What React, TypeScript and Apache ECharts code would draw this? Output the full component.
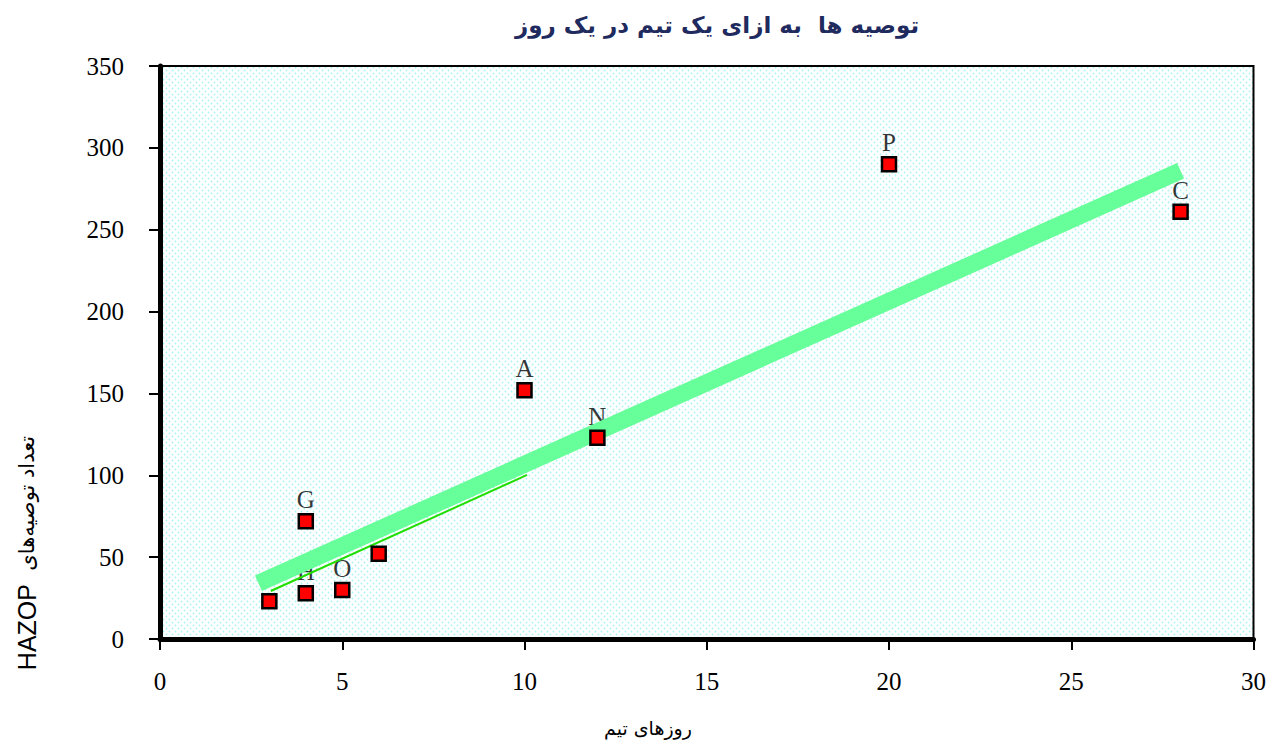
import React, { useEffect, useRef } from "react";
import * as echarts from "echarts";

const teamDays = [3, 4, 5, 6, 4, 10, 12, 20, 28];
const recommendations = [23, 28, 30, 52, 72, 152, 123, 290, 261];
const pointLabels = ["", "H", "O", "", "G", "A", "N", "P", "C"];

const trendX = [2.7, 28];
const trendY = [34, 286];
const thinX = [3.04, 10.07];
const thinY = [29.3, 100.2];

const xTicks = [0, 5, 10, 15, 20, 25, 30];
const yTicks = [0, 50, 100, 150, 200, 250, 300, 350];

const titleText = "توصیه ها  به ازای یک تیم در یک روز";
const xName = "روزهای تیم";
const yNameFa = "تعداد توصیه‌های";
const yNameEn = "HAZOP";

const dotSvg =
  "data:image/svg+xml;utf8," +
  encodeURIComponent(
    '<svg xmlns="http://www.w3.org/2000/svg" width="6" height="6"><rect width="6" height="6" fill="#ffffff"/><circle cx="1.5" cy="1.5" r="0.9" fill="#a8f4f4"/><circle cx="4.5" cy="4.5" r="0.9" fill="#a8f4f4"/></svg>'
  );

export default function App() {
  const ref = useRef<HTMLDivElement>(null);
  useEffect(() => {
    document.body.style.margin = "0";
    const chart = echarts.init(ref.current!, null, { renderer: "svg" });
    const pts = teamDays.map((x, i) => [x, recommendations[i], pointLabels[i]]);
    chart.setOption({
      animation: false,
      backgroundColor: "#ffffff",
      grid: {
        left: 160,
        top: 66,
        right: 14,
        bottom: 103,
        show: true,
        borderColor: "#000",
        borderWidth: 2,
        backgroundColor: {
          image: dotSvg,
          repeat: "repeat",
          imageWidth: 6,
          imageHeight: 6,
        },
      },
      xAxis: {
        type: "value",
        min: xTicks[0],
        max: xTicks[xTicks.length - 1],
        interval: 5,
        splitLine: { show: false },
        axisLine: { show: true, onZero: false, lineStyle: { color: "#000", width: 5 } },
        axisTick: { show: true, length: 11, lineStyle: { color: "#000", width: 2 } },
        axisLabel: {
          color: "#000",
          fontFamily: "Liberation Serif",
          fontSize: 25,
          margin: 30,
          formatter: (v: number) => String(v),
        },
      },
      yAxis: {
        type: "value",
        min: yTicks[0],
        max: yTicks[yTicks.length - 1],
        interval: 50,
        splitLine: { show: false },
        axisLine: { show: true, onZero: false, lineStyle: { color: "#000", width: 5 } },
        axisTick: { show: true, length: 11, lineStyle: { color: "#000", width: 2 } },
        axisLabel: {
          color: "#000",
          fontFamily: "Liberation Serif",
          fontSize: 25,
          margin: 36,
          formatter: (v: number) => String(v),
        },
      },
      graphic: [
        {
          type: "text",
          x: 717,
          y: 25,
          style: {
            text: titleText,
            font: "bold 23px 'DejaVu Sans'",
            fill: "#1f2a5e",
            align: "center",
            verticalAlign: "middle",
          },
        },
        {
          type: "text",
          x: 648,
          y: 728,
          style: {
            text: xName,
            font: "19px 'DejaVu Sans'",
            fill: "#000",
            align: "center",
            verticalAlign: "middle",
          },
        },
        {
          type: "text",
          x: 27,
          y: 553,
          rotation: Math.PI / 2,
          style: {
            text: "{en|" + yNameEn + "}{fa|  " + yNameFa + "}",
            align: "center",
            verticalAlign: "middle",
            fill: "#000",
            rich: {
              en: { fontFamily: "Liberation Sans", fontSize: 25, fill: "#000" },
              fa: { fontFamily: "DejaVu Sans", fontSize: 21, fill: "#000" },
            },
          },
        },
      ],
      series: [
        {
          type: "scatter",
          z: 1,
          data: pts,
          symbol: "rect",
          symbolSize: 14,
          itemStyle: { color: "rgba(0,0,0,0)" },
          label: {
            show: true,
            position: "top",
            distance: 2,
            formatter: (p: any) => p.value[2],
            color: "#000",
            fontFamily: "Liberation Serif",
            fontSize: 25,
          },
          silent: true,
        },
        {
          type: "line",
          z: 2,
          data: thinX.map((x, i) => [x, thinY[i]]),
          showSymbol: false,
          symbol: "none",
          lineStyle: { color: "#22dd00", width: 2 },
        },
        {
          type: "line",
          z: 3,
          data: trendX.map((x, i) => [x, trendY[i]]),
          showSymbol: false,
          symbol: "none",
          lineStyle: { color: "#66ff99", width: 17, cap: "butt" },
        },
        {
          type: "scatter",
          z: 4,
          data: pts,
          symbol: "rect",
          symbolSize: 14,
          itemStyle: { color: "#ff0000", borderColor: "#000", borderWidth: 2.5, opacity: 1 },
        },
      ],
    });
    return () => chart.dispose();
  }, []);
  return <div ref={ref} style={{ width: 1269, height: 742 }} />;
}
